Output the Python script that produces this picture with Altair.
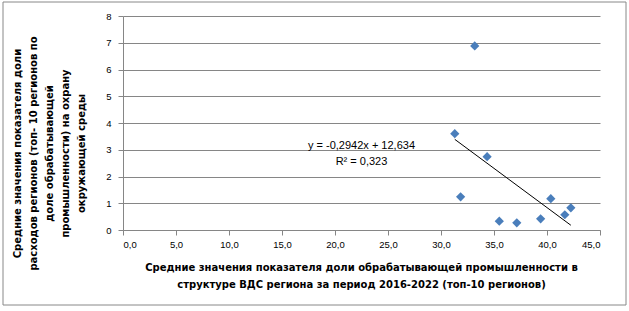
import altair as alt
import pandas as pd

# Data
share_manufacturing = [33.18, 31.3, 34.35, 31.85, 35.5, 37.15, 39.4, 40.36, 41.68, 42.25]
env_spending_share = [6.88, 3.6, 2.74, 1.24, 0.33, 0.27, 0.42, 1.17, 0.57, 0.83]

eq_labels = ["y = -0,2942x + 12,634", "R² = 0,323"]
eq_label_x = [22.5, 22.5]
eq_label_y = [3.13, 2.53]

x_title = ["Средние значения  показателя  доли обрабатывающей  промышленности  в",
           "структуре  ВДС региона за период 2016-2022 (топ-10 регионов)"]
y_title = ["Средние значения  показателя  доли",
           "расходов регионов (топ- 10 регионов по",
           "доле обрабатывающей",
           "промышленности) на охрану",
           "окружающей среды"]

df = pd.DataFrame({"x": share_manufacturing, "y": env_spending_share})
labels = pd.DataFrame({"x": eq_label_x, "y": eq_label_y, "t": eq_labels})

GRID = "#868686"
TICK_FONT = "Liberation Sans"
TITLE_FONT = "DejaVu Sans"

x_enc = alt.X("x:Q", scale=alt.Scale(domain=[0, 45], nice=False),
              axis=alt.Axis(values=list(range(0, 46, 5)), title=x_title,
                            labelExpr="replace(format(datum.value, '.1f'), '.', ',')",
                            grid=False, domainColor=GRID, tickColor=GRID, tickSize=5,
                            labelFont=TICK_FONT, labelFontSize=9.5, labelColor="#000000",
                            labelPadding=4, labelOverlap=False,
                            titleFont=TITLE_FONT, titleFontSize=10, titleFontWeight="bold",
                            titleColor="#000000", titleLineHeight=17.5,
                            titleBaseline="top", titleAlign="center",
                            titleX=238, titleY=32))
y_enc = alt.Y("y:Q", scale=alt.Scale(domain=[0, 8], nice=False),
              axis=alt.Axis(values=list(range(0, 9)), title=y_title,
                            grid=True, gridColor=GRID, domainColor=GRID, tickColor=GRID, tickSize=5,
                            labelFont=TICK_FONT, labelFontSize=9.5, labelColor="#000000",
                            labelPadding=7, labelOverlap=False,
                            titleFont=TITLE_FONT, titleFontSize=10, titleFontWeight="bold",
                            titleColor="#000000", titleLineHeight=16,
                            titleAngle=270, titleBaseline="top", titleAlign="center",
                            titleX=-111, titleY=137))

base = alt.Chart(df).encode(x=x_enc, y=y_enc)

points = base.mark_point(shape="diamond", filled=True, size=85, opacity=1, color="#4A7EBB")

trend = base.transform_regression("x", "y", method="linear").mark_line(
    color="#000000", strokeWidth=1)

eq = alt.Chart(labels).mark_text(font="Liberation Sans", fontSize=11, color="#000000",
                                 align="center", baseline="middle").encode(
    x=x_enc, y=y_enc, text="t:N")

frame = alt.Chart(pd.DataFrame({"a": [0]})).mark_rect(
    fill=None, stroke="#888888", strokeWidth=1).encode(
    x=alt.value(-120), x2=alt.value(503), y=alt.value(-14), y2=alt.value(289))

chart = alt.layer(points, trend, eq, frame).properties(
    width=477, height=214,
    autosize=alt.AutoSizeParams(type="none"),
    padding={"left": 123, "top": 16, "right": 29, "bottom": 81},
    background="#FFFFFF",
).configure_view(stroke=None)

chart.save("out.html", embed_options={"renderer": "svg", "actions": False})
